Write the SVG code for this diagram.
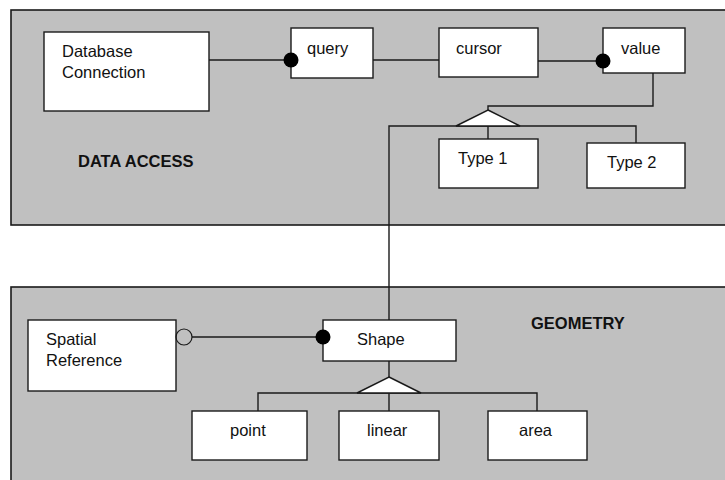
<svg xmlns="http://www.w3.org/2000/svg" width="725" height="480" viewBox="0 0 725 480">
  <style>
    .panel { fill: #c0c0c0; stroke: #1a1a1a; stroke-width: 1.6; }
    .box { fill: #ffffff; stroke: #1a1a1a; stroke-width: 1.4; }
    .wire { fill: none; stroke: #1a1a1a; stroke-width: 1.4; }
    .tri { fill: #ffffff; stroke: #1a1a1a; stroke-width: 1.4; stroke-linejoin: miter; }
    .dot { fill: #000000; }
    .ring { fill: none; stroke: #1a1a1a; stroke-width: 1.2; }
    text { font-family: "Liberation Sans", Arial, sans-serif; font-size: 16.5px; fill: #111111; }
    .title { font-weight: bold; }
  </style>

  <rect width="725" height="480" fill="#ffffff"/>

  <!-- package panels -->
  <g id="panel-data-access">
    <rect class="panel" x="11" y="10" width="730" height="215"/>
    <text class="title" x="78" y="167">DATA ACCESS</text>
  </g>
  <g id="panel-geometry">
    <rect class="panel" x="11" y="287" width="730" height="210"/>
    <text class="title" x="531" y="329">GEOMETRY</text>
  </g>

  <!-- data access classes -->
  <g id="database-connection">
    <rect class="box" x="44" y="32" width="165" height="79"/>
    <text x="62" y="57">Database</text>
    <text x="62" y="78">Connection</text>
  </g>
  <g id="query">
    <rect class="box" x="291" y="28" width="82" height="50"/>
    <text x="307" y="54">query</text>
  </g>
  <g id="cursor">
    <rect class="box" x="439" y="28" width="99" height="49"/>
    <text x="456" y="54">cursor</text>
  </g>
  <g id="value">
    <rect class="box" x="603" y="28" width="82" height="45"/>
    <text x="621" y="54">value</text>
  </g>
  <g id="type-1">
    <rect class="box" x="439" y="139" width="99" height="49"/>
    <text x="458" y="164">Type 1</text>
  </g>
  <g id="type-2">
    <rect class="box" x="587" y="143" width="98" height="45"/>
    <text x="607" y="168">Type 2</text>
  </g>

  <!-- geometry classes -->
  <g id="spatial-reference">
    <rect class="box" x="28" y="320" width="148" height="71"/>
    <text x="46" y="345">Spatial</text>
    <text x="46" y="366">Reference</text>
  </g>
  <g id="shape">
    <rect class="box" x="323" y="320" width="133" height="41"/>
    <text x="357" y="345">Shape</text>
  </g>
  <g id="point">
    <rect class="box" x="192" y="411" width="115" height="49"/>
    <text x="230" y="436">point</text>
  </g>
  <g id="linear">
    <rect class="box" x="339" y="411" width="100" height="49"/>
    <text x="367" y="436">linear</text>
  </g>
  <g id="area">
    <rect class="box" x="488" y="411" width="99" height="49"/>
    <text x="519" y="436">area</text>
  </g>

  <!-- connectors, drawn over the class boxes so the end dots sit on the borders -->
  <g id="connectors">
    <line class="wire" x1="209" y1="60" x2="291" y2="60"/>
    <line class="wire" x1="373" y1="60" x2="439" y2="60"/>
    <line class="wire" x1="538" y1="61" x2="603" y2="61"/>
    <circle class="dot" cx="291" cy="60" r="7.5"/>
    <circle class="dot" cx="603" cy="61" r="7.5"/>

    <!-- value generalisation -->
    <polyline class="wire" points="653,73 653,106 488,106 488,110"/>
    <polyline class="wire" points="389,320 389,126 636,126 636,143"/>
    <line class="wire" x1="488" y1="126" x2="488" y2="139"/>
    <polygon class="tri" points="488,110 520,126 456,126"/>

    <!-- spatial reference to shape -->
    <line class="wire" x1="192" y1="337" x2="323" y2="337"/>
    <circle class="ring" cx="184" cy="337" r="8"/>
    <circle class="dot" cx="323" cy="337" r="7.5"/>

    <!-- shape generalisation -->
    <line class="wire" x1="389" y1="361" x2="389" y2="377"/>
    <polyline class="wire" points="258,411 258,393 537,393 537,411"/>
    <line class="wire" x1="389" y1="393" x2="389" y2="411"/>
    <polygon class="tri" points="389,377 421,393 357,393"/>
  </g>
</svg>
